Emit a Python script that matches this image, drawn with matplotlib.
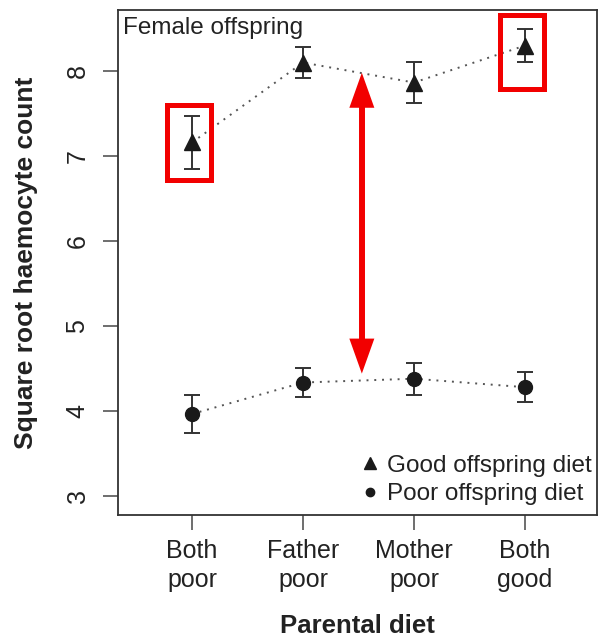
import matplotlib
matplotlib.use("Agg")
import matplotlib.pyplot as plt
from matplotlib.lines import Line2D
from matplotlib.patches import Rectangle

plt.rcParams['font.family'] = ['Liberation Sans', 'DejaVu Sans']

# parental diet treatments
diets = ['Both\npoor', 'Father\npoor', 'Mother\npoor', 'Both\ngood']
x = [1, 2, 3, 4]

# sqrt haemocyte count, mean +/- SE
good_mean = [7.16, 8.10, 7.865, 8.30]
good_se = [0.31, 0.18, 0.24, 0.19]
poor_mean = [3.965, 4.335, 4.38, 4.28]
poor_se = [0.22, 0.17, 0.19, 0.18]

ink = '#1a1a1a'
bar_col = '#333333'
line_col = '#555555'
red = '#f20000'

fig = plt.figure(figsize=(5.99, 6.4), dpi=100)
ax = fig.add_axes([0.197, 0.1953, 0.7997, 0.789])

for mean, se, mk, ms in [(good_mean, good_se, '^', 12), (poor_mean, poor_se, 'o', 10)]:
    ax.plot(x, mean, linestyle=(0, (1, 3)), color=line_col, lw=1.4, zorder=2)
    ax.errorbar(x, mean, yerr=se, fmt='none', ecolor=bar_col, elinewidth=1.4,
                capsize=6, capthick=1.4, zorder=3)
    ax.plot(x, mean, linestyle='none', marker=mk, ms=ms, color=ink, zorder=4)

ax.set_xlim(0.333, 4.649)
ax.set_ylim(2.776, 8.718)
ax.set_xticks(x)
ax.set_xticklabels(diets, fontsize=18, color='#222222', linespacing=1.25)
ax.set_yticks([3, 4, 5, 6, 7, 8])
ax.set_yticklabels(['3', '4', '5', '6', '7', '8'], rotation=90, va='center',
                   fontsize=18, color='#222222')
ax.tick_params(axis='both', length=10.5, width=1.2, color='#555555')
ax.tick_params(axis='x', pad=7)
ax.tick_params(axis='y', pad=10)
for sp in ax.spines.values():
    sp.set_color('#333333')
    sp.set_linewidth(1.3)

ax.set_xlabel('Parental diet', fontsize=18.5, fontweight='bold', color='#222222',
              labelpad=16)
ax.set_ylabel('Square root haemocyte count', fontsize=19, fontweight='bold',
              color='#222222', labelpad=20)

ax.text(0.01, 0.987, 'Female offspring', transform=ax.transAxes, ha='left',
        va='top', fontsize=17.5, color='#222222')

handles = [Line2D([], [], linestyle='none', marker='^', ms=8, color=ink),
           Line2D([], [], linestyle='none', marker='o', ms=6, color=ink)]
ax.legend(handles, ['Good offspring diet', 'Poor offspring diet'],
          loc='lower right', bbox_to_anchor=(1.01, 0.0), frameon=False,
          fontsize=17.5, handlelength=0.6, handletextpad=0.4,
          labelspacing=0.27, borderaxespad=0, labelcolor='#222222')

# highlight boxes
ax.add_patch(Rectangle((0.770, 6.724), 0.397, 0.882, fill=False,
                       edgecolor=red, lw=3.6, zorder=5))
ax.add_patch(Rectangle((3.775, 7.794), 0.392, 0.871, fill=False,
                       edgecolor=red, lw=3.6, zorder=5))

# double-headed arrow: shaft plus two filled heads
ax_x, top, bottom = 2.53, 7.98, 4.44
head = 35 / 85 * 1.0  # head length in data units (85 px per unit)
ax.plot([ax_x, ax_x], [bottom + head * 0.9, top - head * 0.9], color=red,
        lw=4.3, solid_capstyle='butt', zorder=5)
for tip, tail in [(top, top - head), (bottom, bottom + head)]:
    ax.annotate('', xy=(ax_x, tip), xytext=(ax_x, tail),
                arrowprops=dict(arrowstyle='-|>,head_length=25.2,head_width=9',
                                mutation_scale=1, facecolor=red, lw=0,
                                shrinkA=0, shrinkB=0), zorder=6)

fig.savefig('out.png', dpi=100)
